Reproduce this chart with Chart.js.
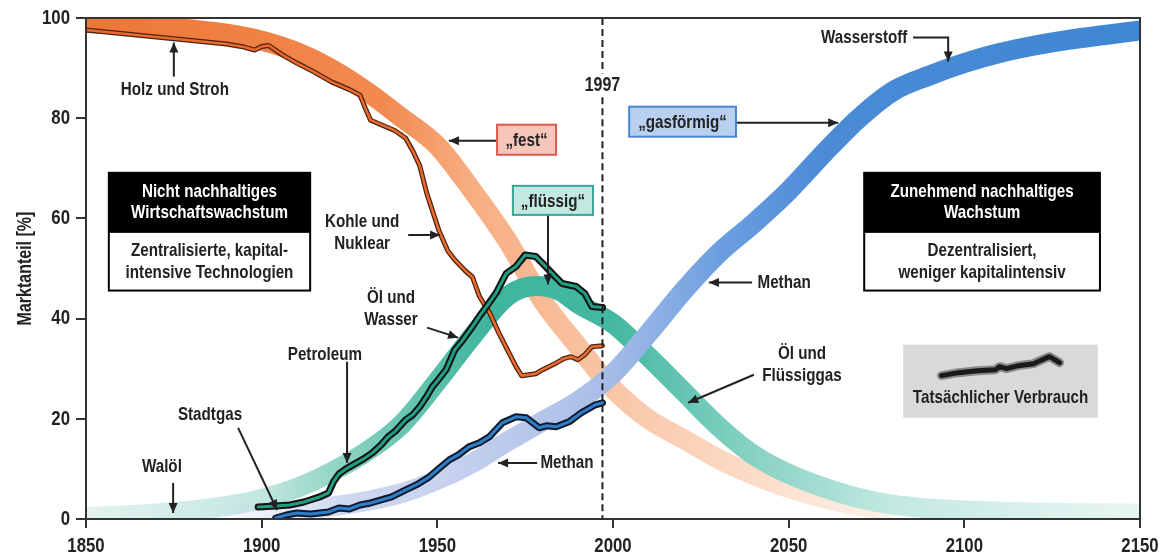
<!DOCTYPE html>
<html lang="de">
<head>
<meta charset="utf-8">
<title>Marktanteil der Energieträger</title>
<script src="https://cdn.jsdelivr.net/npm/chart.js@4.4.1/dist/chart.umd.min.js"></script>
<style>
  html, body { margin: 0; padding: 0; background: #fff; }
  #wrap { width: 1165px; height: 558px; position: relative; }
</style>
</head>
<body>
<div id="wrap"><canvas id="shareChart"></canvas></div>
<script>
const FONT = "'Liberation Sans', Arial, sans-serif";
const INK = '#222';

// Trend bands ("fest", "flüssig", "gasförmig")
const festYears = [1850, 1860, 1870, 1880, 1890, 1900, 1910, 1920, 1930, 1940, 1950, 1960, 1970, 1980, 1990, 2000, 2010, 2020, 2030, 2040, 2050, 2060, 2070, 2080];
const festBand = [99.0, 98.7, 98.3, 97.7, 96.9, 95.5, 93.2, 89.8, 85.3, 80.0, 74.5, 65.5, 55.5, 43.5, 34.5, 26.0, 20.0, 16.0, 12.0, 8.8, 6.2, 4.2, 2.6, 1.6];

const fluessigYears = [1850, 1860, 1870, 1880, 1890, 1900, 1910, 1920, 1930, 1940, 1950, 1960, 1970, 1978, 1985, 1990, 2000, 2010, 2020, 2030, 2040, 2050, 2060, 2070, 2080, 2090, 2100, 2120, 2150];
const fluessigBand = [0.4, 0.7, 1.1, 1.7, 2.6, 4.0, 6.2, 9.4, 13.5, 19.0, 27.5, 36.5, 44.5, 46.5, 45.5, 43.0, 39.0, 32.5, 25.5, 18.5, 12.8, 9.0, 6.3, 4.2, 2.8, 2.1, 1.7, 1.3, 1.1];

const gasYears = [1880, 1890, 1900, 1910, 1920, 1930, 1940, 1950, 1960, 1970, 1980, 1990, 2000, 2010, 2020, 2030, 2040, 2050, 2060, 2070, 2080, 2090, 2100, 2110, 2120, 2130, 2140, 2150];
const gasBand = [0.3, 0.6, 1.0, 1.6, 2.5, 3.6, 5.2, 7.8, 11.2, 15.5, 19.5, 23.5, 29.0, 37.0, 45.5, 53.0, 59.0, 65.5, 73.0, 80.0, 85.5, 88.5, 91.0, 93.0, 94.5, 95.7, 96.6, 97.5];

// Actual consumption (Tatsächlicher Verbrauch)
const solidYears = [1850, 1860, 1870, 1880, 1890, 1895, 1898, 1900, 1902, 1906, 1910, 1915, 1920, 1925, 1928, 1929.5, 1931, 1934, 1938, 1941, 1943, 1945, 1947, 1950.5, 1953, 1955, 1958, 1960, 1962, 1965, 1967.6, 1970.5, 1972.4, 1974, 1976, 1978, 1980, 1982, 1984, 1986, 1988, 1990, 1992, 1994, 1997];
const solidActual = [97.6, 96.9, 96.2, 95.5, 94.8, 94.2, 93.6, 94.3, 94.5, 92.6, 91.0, 89.2, 87.2, 85.7, 84.6, 82.0, 79.6, 78.7, 77.5, 76.0, 73.5, 70.5, 65.0, 57.5, 53.5, 51.7, 49.5, 48.3, 44.4, 41.0, 37.0, 33.0, 30.4, 28.6, 28.8, 29.0, 29.8, 30.5, 31.2, 32.0, 32.4, 31.8, 32.8, 34.4, 34.6];

const liquidYears = [1899, 1904, 1908, 1912, 1916.5, 1919, 1920.5, 1922, 1924, 1927, 1929, 1931.5, 1934, 1936, 1938, 1941, 1943, 1945, 1947, 1948.6, 1950.5, 1952.5, 1955, 1957, 1960, 1962, 1964, 1966.8, 1969.6, 1972.4, 1975, 1978, 1980, 1982.7, 1985.5, 1989.5, 1992, 1994, 1997];
const liquidActual = [2.4, 2.6, 2.8, 3.4, 4.4, 5.2, 7.5, 9.0, 10.0, 11.2, 12.0, 13.2, 14.8, 16.4, 17.5, 19.8, 20.8, 22.4, 24.5, 26.4, 28.0, 29.8, 33.8, 35.5, 38.4, 40.5, 42.4, 45.2, 49.0, 50.4, 52.7, 52.4, 51.0, 49.0, 47.0, 46.4, 45.0, 42.4, 42.2];

const gasActualYears = [1904, 1907, 1910, 1914, 1919, 1922, 1925, 1928, 1931, 1934, 1937, 1941, 1944, 1947.7, 1950, 1953.4, 1956, 1959, 1962, 1964.8, 1968.5, 1972.4, 1975.3, 1979, 1981, 1983.8, 1987.5, 1991, 1995, 1997];
const gasActual = [0.2, 0.8, 1.2, 1.0, 1.4, 2.2, 2.0, 2.8, 3.2, 3.8, 4.4, 5.8, 6.8, 8.4, 9.8, 11.8, 12.8, 14.4, 15.2, 16.4, 19.2, 20.4, 20.2, 18.2, 18.6, 18.4, 19.4, 21.2, 22.8, 23.2];

// Axis ticks
const xTicks = [1850, 1900, 1950, 2000, 2050, 2100, 2150];
const yTicks = [0, 20, 40, 60, 80, 100];
const yTitle = 'Marktanteil [%]';
const markerYear = 1997;

function pts(xs, ys) {
    return xs.map((x, i) => ({ x: x, y: ys[i] }));
}

function bandGradient(stops) {
    return function (ctx) {
        const chart = ctx.chart;
        const area = chart.chartArea;
        if (!area) return stops[stops.length - 1][1];
        const xs = chart.scales.x;
        const g = chart.ctx.createLinearGradient(area.left, 0, area.right, 0);
        stops.forEach(function (s) {
            let f = (xs.getPixelForValue(s[0]) - area.left) / (area.right - area.left);
            g.addColorStop(Math.min(1, Math.max(0, f)), s[1]);
        });
        return g;
    };
}

function band(label, xs, ys, stops, order) {
    return {
        label: label,
        data: pts(xs, ys),
        borderColor: bandGradient(stops),
        borderWidth: 20,
        pointRadius: 0,
        cubicInterpolationMode: 'monotone',
        borderCapStyle: 'butt',
        clip: 0,
        order: order
    };
}

function jagged(label, xs, ys, color, width, order) {
    return {
        label: label,
        data: pts(xs, ys),
        borderColor: color,
        borderWidth: width,
        pointRadius: 0,
        tension: 0,
        borderJoinStyle: 'round',
        borderCapStyle: 'round',
        order: order
    };
}

// the reference uses a heavy condensed face; squeeze Liberation Sans Bold
function label(c, str, x, y, size, color, align, rot) {
    c.save();
    c.translate(x, y);
    if (rot) c.rotate(rot);
    c.scale(0.8, 1);
    c.font = 'bold ' + size + 'px ' + FONT;
    c.fillStyle = color || INK;
    c.textAlign = align || 'center';
    c.textBaseline = 'middle';
    c.fillText(str, 0, 0);
    c.restore();
}

// Annotation layout (data coordinates)
const textNotes = [
    { lines: ['Holz und Stroh'], x: 1875.3, y: 85.7 },
    { lines: ['Kohle und', 'Nuklear'], x: 1928.6, y: 57.2 },
    { lines: ['Öl und', 'Wasser'], x: 1936.8, y: 42.0 },
    { lines: ['Petroleum'], x: 1918.0, y: 32.8 },
    { lines: ['Stadtgas'], x: 1885.3, y: 20.8 },
    { lines: ['Walöl'], x: 1871.6, y: 10.4 },
    { lines: ['Wasserstoff'], x: 2071.5, y: 96.1 },
    { lines: ['Methan'], x: 2048.7, y: 47.2 },
    { lines: ['Öl und', 'Flüssiggas'], x: 2053.8, y: 30.7 },
    { lines: ['Methan'], x: 1986.9, y: 11.2 }
];

const arrowNotes = [
    [[1875.0, 88.3], [1875.0, 95.1]],
    [[1941.7, 56.7], [1950.8, 56.7]],
    [[1947.1, 38.2], [1955.9, 36.2]],
    [[1924.3, 31.4], [1924.3, 11.2]],
    [[1893.3, 18.2], [1904.4, 1.8]],
    [[1874.8, 7.2], [1874.8, 1.2]],
    [[1967.0, 75.5], [1953.3, 75.5]],
    [[1981.5, 60.7], [1981.5, 46.8]],
    [[2035.0, 79.1], [2064.1, 79.1]],
    [[2085.4, 96.1], [2095.4, 96.1], [2095.4, 91.3]],
    [[2039.6, 47.2], [2027.3, 47.2]],
    [[2040.1, 28.8], [2021.4, 23.2]],
    [[1978.4, 11.2], [1967.3, 11.2]]
];

const tagNotes = [
    { text: '„fest“', x0: 1967.0, x1: 1983.8, y0: 78.7, y1: 72.7, fill: '#f7c6ba', stroke: '#df5a4e' },
    { text: '„flüssig“', x0: 1971.5, x1: 1994.3, y0: 66.5, y1: 60.7, fill: '#c2e8e0', stroke: '#3aa595' },
    { text: '„gasförmig“', x0: 2004.6, x1: 2035.0, y0: 82.3, y1: 76.3, fill: '#b8cff0', stroke: '#4a86d0' }
];

const infoBoxes = [
    { head: ['Nicht nachhaltiges', 'Wirtschaftswachstum'], body: ['Zentralisierte, kapital-', 'intensive Technologien'], x0: 1856.5, x1: 1913.8 },
    { head: ['Zunehmend nachhaltiges', 'Wachstum'], body: ['Dezentralisiert,', 'weniger kapitalintensiv'], x0: 2071.5, x1: 2138.6 }
];
const infoRows = [69.1, 57.1, 45.6];

const legendBox = { x0: 2082.6, x1: 2138.0, y0: 34.8, y1: 20.2, text: 'Tatsächlicher Verbrauch', textY: 24.2 };
// small squiggle used as the legend sample, offsets in px from box centre
const legendSquiggle = [[-59, 7], [-42, 4], [-23, 2], [-5, 1], [-1, -2], [6, 0], [18, -3], [33, -5], [44, -10], [49, -12], [59, -6]];

const annotations = {
    id: 'annotations',
    afterDatasetsDraw(chart) {
        const c = chart.ctx;
        const xs = chart.scales.x, ys = chart.scales.y;
        const X = v => xs.getPixelForValue(v);
        const Y = v => ys.getPixelForValue(v);
        c.save();

        // 1997 marker
        c.strokeStyle = INK;
        c.lineWidth = 2;
        c.setLineDash([7, 4]);
        c.beginPath();
        c.moveTo(X(markerYear), Y(100));
        c.lineTo(X(markerYear), Y(88.9));
        c.moveTo(X(markerYear), Y(84.2));
        c.lineTo(X(markerYear), Y(0));
        c.stroke();
        c.setLineDash([]);
        label(c, String(markerYear), X(markerYear), Y(86.6), 20);

        // arrows
        c.strokeStyle = INK;
        c.fillStyle = INK;
        c.lineWidth = 2;
        arrowNotes.forEach(function (a) {
            const p = a.map(q => [X(q[0]), Y(q[1])]);
            c.beginPath();
            c.moveTo(p[0][0], p[0][1]);
            for (let i = 1; i < p.length; i++) c.lineTo(p[i][0], p[i][1]);
            c.stroke();
            const [x1, y1] = p[p.length - 2];
            const [x2, y2] = p[p.length - 1];
            const ang = Math.atan2(y2 - y1, x2 - x1);
            const L = 10, W = 4.5;
            c.beginPath();
            c.moveTo(x2, y2);
            c.lineTo(x2 - L * Math.cos(ang) + W * Math.sin(ang), y2 - L * Math.sin(ang) - W * Math.cos(ang));
            c.lineTo(x2 - L * Math.cos(ang) - W * Math.sin(ang), y2 - L * Math.sin(ang) + W * Math.cos(ang));
            c.closePath();
            c.fill();
        });

        // free text
        textNotes.forEach(function (t) {
            const n = t.lines.length;
            t.lines.forEach(function (line, i) {
                label(c, line, X(t.x), Y(t.y) + (i - (n - 1) / 2) * 22, 19);
            });
        });

        // coloured tags
        tagNotes.forEach(function (t) {
            const x = X(t.x0), y = Y(t.y0), w = X(t.x1) - x, h = Y(t.y1) - y;
            c.fillStyle = t.fill;
            c.fillRect(x, y, w, h);
            c.strokeStyle = t.stroke;
            c.lineWidth = 2;
            c.strokeRect(x, y, w, h);
            label(c, t.text, x + w / 2, y + h / 2 + 1, 19);
        });

        // info boxes
        infoBoxes.forEach(function (b) {
            const x = X(b.x0), w = X(b.x1) - x;
            const yA = Y(infoRows[0]), yB = Y(infoRows[1]), yC = Y(infoRows[2]);
            c.fillStyle = '#000';
            c.fillRect(x, yA, w, yB - yA);
            c.fillStyle = '#fff';
            c.fillRect(x, yB, w, yC - yB);
            c.strokeStyle = '#000';
            c.lineWidth = 2;
            c.strokeRect(x, yA, w, yC - yA);
            b.head.forEach((line, i) => label(c, line, x + w / 2, yA + 19 + i * 21, 19, '#fff'));
            b.body.forEach((line, i) => label(c, line, x + w / 2, yB + 18 + i * 22, 19));
        });

        // legend box
        const lx = X(legendBox.x0), ly = Y(legendBox.y0);
        const lw = X(legendBox.x1) - lx, lh = Y(legendBox.y1) - ly;
        c.fillStyle = '#d9d9d9';
        c.fillRect(lx, ly, lw, lh);
        const cx = lx + lw / 2, cy = ly + 24;
        [['#8a8a8a', 9], ['#1a1a1a', 5]].forEach(function (s) {
            c.strokeStyle = s[0];
            c.lineWidth = s[1];
            c.lineJoin = 'round';
            c.lineCap = 'round';
            c.beginPath();
            legendSquiggle.forEach((q, i) => i ? c.lineTo(cx + q[0], cy + q[1]) : c.moveTo(cx + q[0], cy + q[1]));
            c.stroke();
        });
        label(c, legendBox.text, cx, Y(legendBox.textY), 19);

        c.restore();
    },
    afterDraw(chart) {
        const a = chart.chartArea;
        const c = chart.ctx;
        const xs = chart.scales.x, ys = chart.scales.y;
        c.save();
        c.strokeStyle = '#333';
        c.lineWidth = 2;
        c.strokeRect(a.left, a.top, a.right - a.left, a.bottom - a.top);
        // tick labels and axis title in the condensed face
        xs.ticks.forEach(t => label(c, String(t.value), xs.getPixelForValue(t.value), a.bottom + 27, 21));
        ys.ticks.forEach(t => label(c, String(t.value), a.left - 16, ys.getPixelForValue(t.value), 21, INK, 'right'));
        label(c, yTitle, 25, (a.top + a.bottom) / 2, 20, INK, 'center', -Math.PI / 2);
        c.restore();
    }
};

const ctx = document.getElementById('shareChart').getContext('2d');
const shareChart = new Chart(ctx, {
    type: 'line',
    data: {
        datasets: [
            band('fest', festYears, festBand, [[1850, '#ee7636'], [1935, '#f28a50'], [1960, '#f7ae82'], [2000, '#f9c6a6'], [2040, '#fbdcc8'], [2080, '#fef3ec']], 30),
            band('flüssig', fluessigYears, fluessigBand, [[1850, '#e3f3f0'], [1900, '#c3e7df'], [1935, '#72cab6'], [1965, '#3fb59d'], [2000, '#44b8a0'], [2035, '#80cfc0'], [2080, '#c4e9e2'], [2150, '#e8f6f3']], 29),
            band('gasförmig', gasYears, gasBand, [[1885, 'rgba(200,211,239,0)'], [1925, 'rgba(200,211,239,0.9)'], [1950, '#c8d3ef'], [1997, '#a9bee7'], [2030, '#6d9fe0'], [2060, '#4b8bd6'], [2150, '#3f86d3']], 28),
            jagged('Kohle (Umriss)', solidYears, solidActual, '#4a2410', 5, 20),
            jagged('Holz und Kohle', solidYears, solidActual, '#ec6a2e', 2.5, 19),
            jagged('Öl (Umriss)', liquidYears, liquidActual, '#111', 7, 18),
            jagged('Öl', liquidYears, liquidActual, '#1f9e82', 3, 17),
            jagged('Methan (Umriss)', gasActualYears, gasActual, '#0f1a2e', 7, 16),
            jagged('Methan', gasActualYears, gasActual, '#2f7fc8', 3, 15)
        ]
    },
    options: {
        responsive: true,
        maintainAspectRatio: false,
        animation: false,
        layout: { padding: { top: 18, right: 25, left: 0, bottom: 0 } },
        plugins: { legend: { display: false }, tooltip: { enabled: false } },
        scales: {
            x: {
                type: 'linear',
                min: 1850,
                max: 2150,
                afterBuildTicks: scale => { scale.ticks = xTicks.map(v => ({ value: v })); },
                afterFit: scale => { scale.height = 39; },
                ticks: { display: false },
                grid: { drawOnChartArea: false, drawTicks: true, tickLength: 9, color: '#333', lineWidth: 2 },
                border: { display: true, color: '#333', width: 2 }
            },
            y: {
                type: 'linear',
                min: 0,
                max: 100,
                afterBuildTicks: scale => { scale.ticks = yTicks.map(v => ({ value: v })); },
                afterFit: scale => { scale.width = 86; },
                ticks: { display: false },
                grid: { drawOnChartArea: false, drawTicks: true, tickLength: 10, color: '#333', lineWidth: 2 },
                border: { display: true, color: '#333', width: 2 }
            }
        }
    },
    plugins: [annotations]
});
</script>
</body>
</html>
